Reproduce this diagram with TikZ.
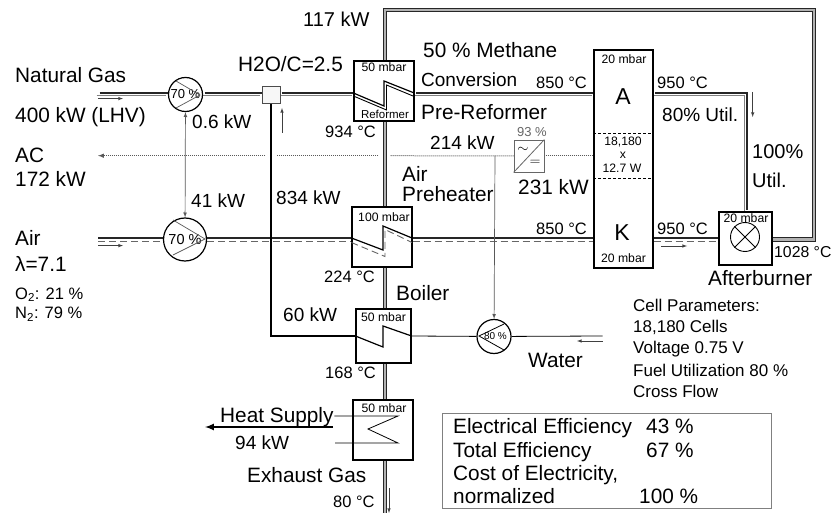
\documentclass[tikz,border=0pt]{standalone}
\usepackage{fontspec}
\setmainfont{Liberation Sans}
\usetikzlibrary{backgrounds}

\tikzset{
  bigtext/.style={anchor=base west, inner sep=0, font=\fontsize{20.8}{22}\selectfont},
  kwtext/.style={anchor=base west, inner sep=0, font=\fontsize{19}{21}\selectfont},
  temptext/.style={anchor=base west, inner sep=0, font=\fontsize{16.5}{18}\selectfont},
  paramtext/.style={anchor=base west, inner sep=0, font=\fontsize{17}{19}\selectfont},
  smalltext/.style={anchor=base, inner sep=0, font=\fontsize{12.2}{14}\selectfont},
  vessel/.style={draw, line width=1.2pt, fill=white, inner sep=0, minimum width=60pt, minimum height=60pt},
  pump/.style={draw, circle, line width=1.2pt, fill=white, inner sep=0},
  anodeline/.style={black!85, line width=1.3pt, transform canvas={xshift=1.5pt, yshift=1.5pt}},
  anodeback/.style={gray, line width=1pt, transform canvas={xshift=-1.5pt, yshift=-1.5pt}},
  airback/.style={gray!80!black, line width=0.9pt, dash pattern=on 7pt off 4pt, transform canvas={yshift=-1.5pt}},
  airfront/.style={black!85, line width=1.3pt, transform canvas={yshift=1.5pt}},
  flue/.style={black!85, line width=0.9pt, double=gray!60, double distance=2.8pt},
  coil/.style={black, line width=1.2pt},
  thinline/.style={gray!70!black, line width=0.7pt},
  waterline/.style={black, line width=0.8pt},
  powerline/.style={gray!70!black, line width=1pt, dash pattern=on 1pt off 1pt},
  flowmark/.style={black!75, line width=0.6pt, -latex},
}

\begin{document}
\begin{tikzpicture}[x=1pt, y=-1pt]

  \useasboundingbox (0,0) rectangle (833,513);

  \coordinate (fuelin) at (98,94.5);
  \coordinate (airin) at (98,239.5);
  \coordinate (acend) at (98,155.7);
  \coordinate (waterin) at (602.7,336);
  \coordinate (ductcorner) at (814,239.5);
  \coordinate (ducttop) at (814,10);
  \coordinate (pipetop) at (385,10);
  \coordinate (pipeend) at (385,516);
  \coordinate (heatout) at (333,427);
  \coordinate (heatend) at (205,427);

  \node[pump, minimum size=34pt, font=\fontsize{13}{14}\selectfont] (fuelpump) at (185.5,94.5) {70 \%};
  \node[pump, minimum size=43pt, font=\fontsize{14.5}{16}\selectfont] (airpump) at (185,239.5) {70 \%};
  \node[pump, minimum size=34pt, font=\fontsize{10}{11}\selectfont] (waterpump) at (494,336.5) {\hspace{3pt}80 \%};
  \node[draw=black!70, line width=0.9pt, fill=black!3, minimum width=18pt, minimum height=17pt, inner sep=0] (mixer) at (271,94.5) {};

  \node[vessel] (reformer) at (384,91) {};
  \node[vessel] (preheater) at (382,237) {};
  \node[vessel, minimum width=55pt, minimum height=54pt] (boiler) at (383.5,336) {};
  \node[vessel] (exchanger) at (383,430) {};
  \node[vessel, minimum width=59pt, minimum height=218pt] (stack) at (623.5,159) {};
  \node[vessel, minimum width=53pt, minimum height=53pt] (burner) at (745.5,238.5) {};
  \node[draw, circle, line width=0.9pt, minimum size=29pt, inner sep=0] (flame) at (745,237) {};
  \node[draw=gray!80!black, line width=0.9pt, fill=white, minimum width=30pt, minimum height=32pt, inner sep=0] (inverter) at (529,156) {};

  \coordinate (refin) at (reformer.west |- fuelin);
  \coordinate (refout) at (reformer.east |- fuelin);
  \coordinate (stackfuel) at (stack.west |- fuelin);
  \coordinate (anodeout) at (stack.east |- fuelin);
  \coordinate (heatair) at (preheater.west |- airin);
  \coordinate (hotair) at (preheater.east |- airin);
  \coordinate (stackair) at (stack.west |- airin);
  \coordinate (cathodeout) at (stack.east |- airin);
  \coordinate (burnerair) at (burner.west |- airin);
  \coordinate (boilerin) at (boiler.west |- waterin);
  \coordinate (boilerout) at (boiler.east |- waterin);
  \coordinate (acsplit) at (495,155.7);
  \coordinate (acgapa) at (390,155.7);
  \coordinate (acgapb) at (378,155.7);
  \coordinate (acgapc) at (276.5,155.7);
  \coordinate (acgapd) at (265,155.7);
  \coordinate (dcsource) at (stack.west |- inverter);

  \begin{scope}[on background layer]
    \foreach \from/\to in {fuelin/fuelpump, fuelpump/mixer, mixer/refin, refout/stackfuel} {
      \draw[anodeline] (\from) -- (\to);
      \draw[anodeback] (\from) -- (\to);
    }
    \draw[anodeline] (anodeout) -| (burner.north);
    \draw[anodeback] (anodeout) -| (burner.north);

    \foreach \from/\to in {airin/airpump, airpump/heatair, hotair/stackair, cathodeout/burnerair} {
      \draw[airfront] (\from) -- (\to);
      \draw[airback] (\from) -- (\to);
    }

    \draw[flue] (burner.east |- ductcorner) -- (ductcorner) -- (ducttop) -- (pipetop) -- (reformer.north -| pipetop);
    \draw[flue] (reformer.south -| pipetop) -- (preheater.north -| pipetop);
    \draw[flue] (preheater.south -| pipetop) -- (boiler.north -| pipetop);
    \draw[flue] (boiler.south -| pipetop) -- (exchanger.north -| pipetop);
    \draw[flue] (exchanger.south -| pipetop) -- (pipeend);

    \draw[black, line width=1.8pt] (mixer.south) |- (boilerin);
    \draw[waterline] (boilerout) -- (waterpump);
    \draw[waterline] (waterpump) -- (waterin);
    \draw[thinline, latex-latex] (fuelpump) -- (airpump);
    \draw[thinline, -latex] (acsplit) -- (waterpump);

    \draw[powerline] (dcsource) -- (inverter);
    \draw[powerline] (inverter) -- (acgapa);
    \draw[powerline] (acgapb) -- (acgapc);
    \draw[powerline, -latex] (acgapd) -- (acend);
    \draw[black, line width=2pt, -latex] (heatout) -- (heatend);
  \end{scope}

  \draw[thinline] (176,81) -- (200,95) -- (176,108);
  \draw[thinline] (173,220) -- (205,239) -- (173,255);
  \draw[waterline] (504,324) -- (479,336) -- (504,350);

  \draw[coil] (refin) ++(0,-1.5) -- (384,106) -- (384,81) -- (413,92.5);
  \draw[coil, line width=0.9pt] (refin) ++(0,1.5) -- (386.5,110) -- (386.5,85) -- (413,96);
  \draw[coil] (heatair) ++(0,-1.5) -- (383,250) -- (383,226) -- (412,238);
  \draw[airback, transform canvas={}] (heatair) ++(0,1.5) -- (385,255) -- (385,228) -- (412,241);
  \draw[coil] (boilerin) -- (383,347) -- (383,326) -- (boilerout);
  \draw[waterline] (exchanger.west |- heatout) ++(-18,-11) -- (398,416) -- (368,429) -- (398,443) -- (335,443);

  \draw[line width=0.7pt, dash pattern=on 3pt off 2pt] (stack.west |- 0,133) -- (stack.east |- 0,133);
  \draw[line width=0.7pt, dash pattern=on 3pt off 2pt] (stack.west |- 0,178) -- (stack.east |- 0,178);
  \draw[line width=0.8pt] (flame.north west) -- (flame.south east);
  \draw[line width=0.8pt] (flame.north east) -- (flame.south west);
  \draw[gray!80!black, line width=0.8pt] (inverter.south west) -- (inverter.north east);
  \node[inner sep=0, font=\fontsize{14}{15}\selectfont] (invac) at (523,150) {$\sim$};
  \node[inner sep=0, font=\fontsize{14}{15}\selectfont] (invdc) at (535,163) {$=$};

  \draw[flowmark] (98,98.6) -- (123,98.6);
  \draw[flowmark] (98,245.6) -- (123,245.6);
  \draw[flowmark] (282,133) -- (282,108);
  \draw[flowmark] (752.7,92) -- (752.7,117);
  \draw[flowmark] (661,246) -- (687,246);
  \draw[flowmark] (602.7,341) -- (577,341);
  \draw[flowmark] (389,488) -- (389,513);

  \node[smalltext] (refmbar) at (384,71.6) {50 mbar};
  \node[smalltext, font=\fontsize{11.5}{13}\selectfont] (reflabel) at (385,119) {Reformer};
  \node[smalltext] (preheatmbar) at (384,222) {100 mbar};
  \node[smalltext] (boilermbar) at (383.5,321.6) {50 mbar};
  \node[smalltext] (exchmbar) at (384,412) {50 mbar};
  \node[smalltext] (anodembar) at (624,64) {20 mbar};
  \node[smalltext] (cathodembar) at (623.5,263) {20 mbar};
  \node[smalltext] (burnermbar) at (746,223) {20 mbar};
  \node[smalltext] (cellcount) at (623,146) {18,180};
  \node[smalltext] (cellx) at (623,159) {x};
  \node[smalltext] (cellpower) at (622,173) {12.7 W};
  \node[smalltext, font=\fontsize{23}{25}\selectfont] (anodelabel) at (623,105) {A};
  \node[smalltext, font=\fontsize{23}{25}\selectfont] (cathodelabel) at (622,241) {K};
  \node[smalltext, gray!80!black, font=\fontsize{13}{14}\selectfont] (invlabel) at (532,137) {93 \%};

  \node[bigtext] (gaslabel) at (15,83) {Natural Gas};
  \node[bigtext] (lhvlabel) at (15,123) {400 kW (LHV)};
  \node[bigtext] (aclabel) at (15,163) {AC};
  \node[bigtext] (acpower) at (15,186.7) {172 kW};
  \node[bigtext] (airlabel) at (15,246) {Air};
  \node[bigtext] (lambdalabel) at (15,272) {λ=7.1};
  \node[temptext] (oxygen) at (15,299) {O\textsubscript{2}: 21 \%};
  \node[temptext] (nitrogen) at (15,319) {N\textsubscript{2}: 79 \%};

  \node[kwtext] (fuelpower) at (192,129) {0.6 kW};
  \node[kwtext] (airpower) at (191,208) {41 kW};
  \node[kwtext] (recyclepower) at (276,205) {834 kW};
  \node[bigtext] (steamratio) at (238,72) {H2O/C=2.5};
  \node[bigtext, font=\fontsize{20}{22}\selectfont] (flowpower) at (303,27) {117 kW};
  \node[temptext] (reftemp) at (325,138) {934 °C};

  \node[bigtext] (methane) at (423,58) {50 \% Methane};
  \node[kwtext] (conversion) at (421,87) {Conversion};
  \node[temptext] (anodein) at (536,89) {850 °C};
  \node[bigtext] (prereformer) at (421,120) {Pre-Reformer};
  \node[kwtext] (dcpower) at (430,150) {214 kW};
  \node[bigtext] (gridpower) at (518,195) {231 kW};
  \node[bigtext] (airpre) at (402,181.7) {Air};
  \node[bigtext] (preheat) at (402,201.7) {Preheater};
  \node[temptext] (cathodein) at (536,235) {850 °C};

  \node[temptext] (anodetemp) at (657,89) {950 °C};
  \node[temptext] (cathodetemp) at (657,235) {950 °C};
  \node[kwtext] (util) at (662,122) {80\% Util.};
  \node[bigtext, font=\fontsize{20}{22}\selectfont] (fullutil) at (752,159) {100\%};
  \node[bigtext, font=\fontsize{20}{22}\selectfont] (fullutilb) at (752,188) {Util.};
  \node[temptext, font=\fontsize{15.8}{18}\selectfont] (burnertemp) at (774,258) {1028 °C};
  \node[bigtext] (burnerlabel) at (708,285) {Afterburner};

  \node[temptext] (preheattemp) at (324,283) {224 °C};
  \node[bigtext] (boilerlabel) at (396,300) {Boiler};
  \node[kwtext] (boilerpower) at (283,321) {60 kW};
  \node[temptext] (boilertemp) at (325,378) {168 °C};
  \node[bigtext] (waterlabel) at (528,367) {Water};
  \node[bigtext] (heatlabel) at (220,422) {Heat Supply};
  \node[kwtext] (heatpower) at (235,449) {94 kW};
  \node[bigtext] (exhaustlabel) at (247,482) {Exhaust Gas};
  \node[temptext] (exhausttemp) at (333,507) {80 °C};

  \node[paramtext] (paramhead) at (633,311) {Cell Parameters:};
  \node[paramtext] (paramcells) at (633,332) {18,180 Cells};
  \node[paramtext] (paramvolt) at (633,353) {Voltage 0.75 V};
  \node[paramtext] (paramfuel) at (633,376) {Fuel Utilization 80 \%};
  \node[paramtext] (paramflow) at (633,397) {Cross Flow};

  \node[draw=gray, line width=0.9pt, minimum width=329pt, minimum height=95pt, inner sep=0] (resultbox) at (606.5,460.5) {};
  \node[bigtext] (elecname) at (453,433) {Electrical Efficiency};
  \node[bigtext] (elecvalue) at (646,433) {43 \%};
  \node[bigtext] (totalname) at (453,457) {Total Efficiency};
  \node[bigtext] (totalvalue) at (646,457) {67 \%};
  \node[bigtext] (costname) at (453,480) {Cost of Electricity,};
  \node[bigtext] (normname) at (453,503) {normalized};
  \node[bigtext] (normvalue) at (639,503) {100 \%};

\end{tikzpicture}
\end{document}
